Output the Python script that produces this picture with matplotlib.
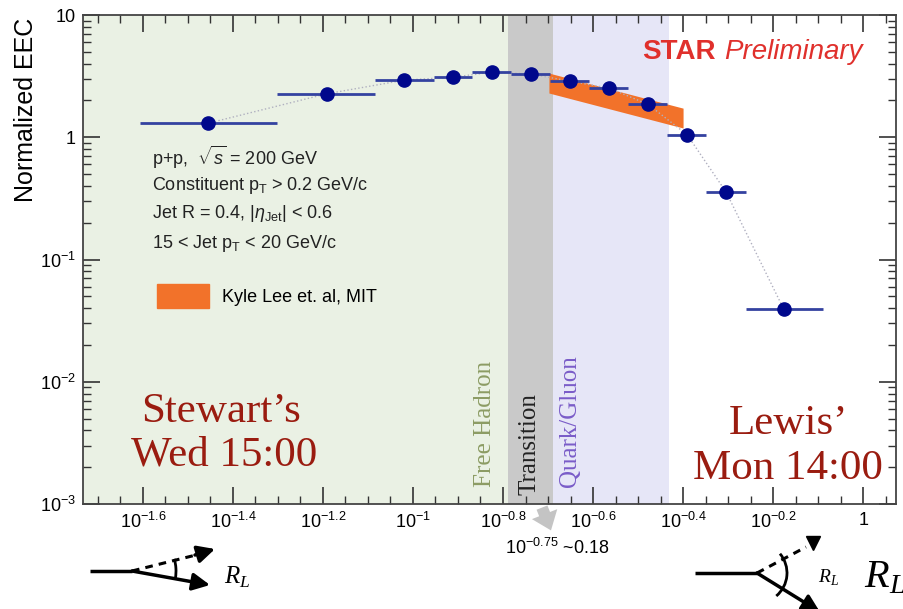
import numpy as np
import matplotlib
matplotlib.use("Agg")
import matplotlib.pyplot as plt
from matplotlib.patches import Patch, Arc, FancyArrowPatch

plt.rcParams["font.family"] = ["Liberation Sans", "DejaVu Sans"]
plt.rcParams["mathtext.fontset"] = "custom"
plt.rcParams["mathtext.rm"] = "Liberation Sans"
plt.rcParams["mathtext.it"] = "Liberation Sans:italic"
plt.rcParams["mathtext.cal"] = "Liberation Serif:italic"

# measured EEC, x given as log10(R_L)
rl_log = [-1.456, -1.191, -1.020, -0.911, -0.824, -0.738, -0.651, -0.564,
          -0.478, -0.391, -0.304, -0.176]
bin_edges_log = [-1.607, -1.302, -1.084, -0.953, -0.869, -0.782, -0.696,
                 -0.609, -0.522, -0.436, -0.349, -0.260, -0.089]
eec = [1.30, 2.27, 2.93, 3.10, 3.41, 3.28, 2.88, 2.52, 1.86, 1.05, 0.354, 0.039]

# theory band (Kyle Lee et al.)
theory_rl_log = [-0.698, -0.400]
theory_lo = [2.30, 1.19]
theory_hi = [3.35, 1.73]

# regions (log10 R_L)
free_hadron_end = -0.789
transition_end = -0.689
quark_gluon_end = -0.431

xtick_log = [-1.6, -1.4, -1.2, -1.0, -0.8, -0.6, -0.4, -0.2, 0.0]
xtick_labels = ["$10^{-1.6}$", "$10^{-1.4}$", "$10^{-1.2}$", "$10^{-1}$",
                "$10^{-0.8}$", "$10^{-0.6}$", "$10^{-0.4}$", "$10^{-0.2}$", "1"]
ytick_vals = [1e-3, 1e-2, 1e-1, 1, 10]
ytick_labels = ["$10^{-3}$", "$10^{-2}$", "$10^{-1}$", "1", "10"]

x = 10 ** np.array(rl_log)
edges = 10 ** np.array(bin_edges_log)
y = np.array(eec)

fig = plt.figure(figsize=(9.04, 6.09), dpi=100)
ax = fig.add_axes([83 / 904, 1 - 504 / 609, 813 / 904, 489 / 609])
ax.set_xscale("log")
ax.set_yscale("log")
xmin, xmax = 10 ** -1.733, 10 ** 0.073
ax.set_xlim(xmin, xmax)
ax.set_ylim(1e-3, 10)

ax.axvspan(xmin, 10 ** free_hadron_end, color="#eaf1e4", lw=0, zorder=0)
ax.axvspan(10 ** free_hadron_end, 10 ** transition_end, color="#c9c9c9", lw=0, zorder=0)
ax.axvspan(10 ** transition_end, 10 ** quark_gluon_end, color="#e6e6f7", lw=0, zorder=0)

ax.fill_between(10 ** np.array(theory_rl_log), theory_lo, theory_hi,
                color="#f2722a", lw=0, zorder=2)
ax.plot(x, y, ls=":", color="#b0b0c0", lw=1, zorder=3)
ax.errorbar(x, y, xerr=[x - edges[:-1], edges[1:] - x], fmt="o", color="#00088c",
            ecolor="#3442a0", elinewidth=2, ms=9.5, capsize=0, zorder=4)

ax.set_xticks(10 ** np.array(xtick_log))
ax.set_xticklabels(xtick_labels, fontsize=13)
minor = [10 ** (k * 0.05) for k in range(-34, 2) if k % 4 != 0]
ax.set_xticks(minor, minor=True)
ax.xaxis.set_minor_formatter(plt.NullFormatter())
ax.set_yticks(ytick_vals)
ax.set_yticklabels(ytick_labels, fontsize=13)
ax.tick_params(which="both", direction="in", top=True, right=True, color="#333333")
ax.tick_params(which="major", length=12, width=1.2)
ax.tick_params(which="minor", length=6, width=1.0)
ax.tick_params(axis="x", pad=6)
ax.tick_params(axis="y", pad=5)
for s in ax.spines.values():
    s.set_color("#444444")
    s.set_linewidth(1.3)

ax.legend(handles=[Patch(color="#f2722a")], labels=["Kyle Lee et. al, MIT"],
          loc="center left", bbox_to_anchor=(157 / 904, 1 - 296 / 609),
          bbox_transform=fig.transFigure, frameon=False, fontsize=13,
          handlelength=2.9, handleheight=1.7, handletextpad=0.7, borderpad=0,
          borderaxespad=0)

# overlay in pixel coordinates for annotations
ov = fig.add_axes([0, 0, 1, 1], zorder=5)
ov.set_xlim(0, 904)
ov.set_ylim(609, 0)
ov.axis("off")
ov.patch.set_alpha(0)

ov.text(26, 110, "Normalized EEC", rotation=90, ha="center", va="center", fontsize=18)

info = ["p+p,  $\\sqrt{s}$ = 200 GeV",
        "Constituent $\\mathregular{p_T}$ > 0.2 GeV/c",
        "Jet R = 0.4, $|\\eta_{\\mathregular{Jet}}|$ < 0.6",
        "15 < Jet $\\mathregular{p_T}$ < 20 GeV/c"]
for txt, yy in zip(info, [157, 185, 213, 243]):
    ov.text(152, yy, txt, ha="left", va="center", fontsize=13, color="#222222")

red = "#e0302c"
ov.text(642, 52, "STAR", ha="left", va="center", fontsize=20, fontweight="bold", color=red)
ov.text(863, 52, "Preliminary", ha="right", va="center", fontsize=20, style="italic", color=red)

serif = ["Liberation Serif", "DejaVu Serif"]
ov.text(485, 487, "Free Hadron", rotation=90, ha="center", va="bottom",
        fontsize=18, family=serif, color="#8c9c64")
ov.text(530, 495, "Transition", rotation=90, ha="center", va="bottom",
        fontsize=18, family=serif, color="#222222")
ov.text(570, 487, "Quark/Gluon", rotation=90, ha="center", va="bottom",
        fontsize=18, family=serif, color="#7a5cc8")

dred = "#9a1c10"
ov.text(221, 412, "Stewart\u2019s", ha="center", va="center", fontsize=31, family=serif, color=dred)
ov.text(224, 455, "Wed 15:00", ha="center", va="center", fontsize=31, family=serif, color=dred)
ov.text(788, 424, "Lewis\u2019", ha="center", va="center", fontsize=31, family=serif, color=dred)
ov.text(788, 469, "Mon 14:00", ha="center", va="center", fontsize=31, family=serif, color=dred)

# arrow to 10^-0.75
ov.add_patch(FancyArrowPatch((541, 505), (552, 533),
                             arrowstyle="simple,head_width=1.4,head_length=0.9,tail_width=0.6",
                             mutation_scale=14, color="#c4c4c4", lw=0))
ov.text(557, 548, "$10^{-0.75}$ ~0.18", ha="center", va="center", fontsize=13)

head = dict(lw=2.5, color="k", mutation_scale=26, shrinkA=0, shrinkB=0)

# left jet sketch
ov.plot([90, 132], [571, 571], color="k", lw=2.5, solid_capstyle="butt")
ov.annotate("", xy=(210, 585), xytext=(132, 571),
            arrowprops=dict(arrowstyle="-|>", **head))
ov.plot([132, 196], [571, 555], color="k", lw=2.2, ls=(0, (2.5, 2)))
ov.annotate("", xy=(215, 549), xytext=(195, 555),
            arrowprops=dict(arrowstyle="-|>", **head))
ov.add_patch(Arc((132, 571), 88, 88, theta1=-16, theta2=9, lw=2, color="k"))
ov.text(224, 577, "$\\mathcal{R}_\\mathcal{L}$", ha="left", va="center", fontsize=18)

# right jet sketch
ov.plot([695, 757], [573, 573], color="k", lw=2.5, solid_capstyle="butt")
ov.annotate("", xy=(820, 612), xytext=(757, 573), annotation_clip=False,
            arrowprops=dict(arrowstyle="-|>", **head))
ov.plot([757, 806], [573, 547], color="k", lw=2.2, ls=(0, (2.5, 2)))
ov.plot([813], [543], marker="v", color="k", ms=10)
ov.add_patch(Arc((757, 573), 60, 60, theta1=-40, theta2=50, lw=2, color="k"))
ov.text(818, 577, "$\\mathcal{R}_\\mathcal{L}$", ha="left", va="center", fontsize=14)
ov.text(864, 577, "$\\mathcal{R}_\\mathcal{L}$", ha="left", va="center", fontsize=29)

fig.savefig("out.png", dpi=100)
